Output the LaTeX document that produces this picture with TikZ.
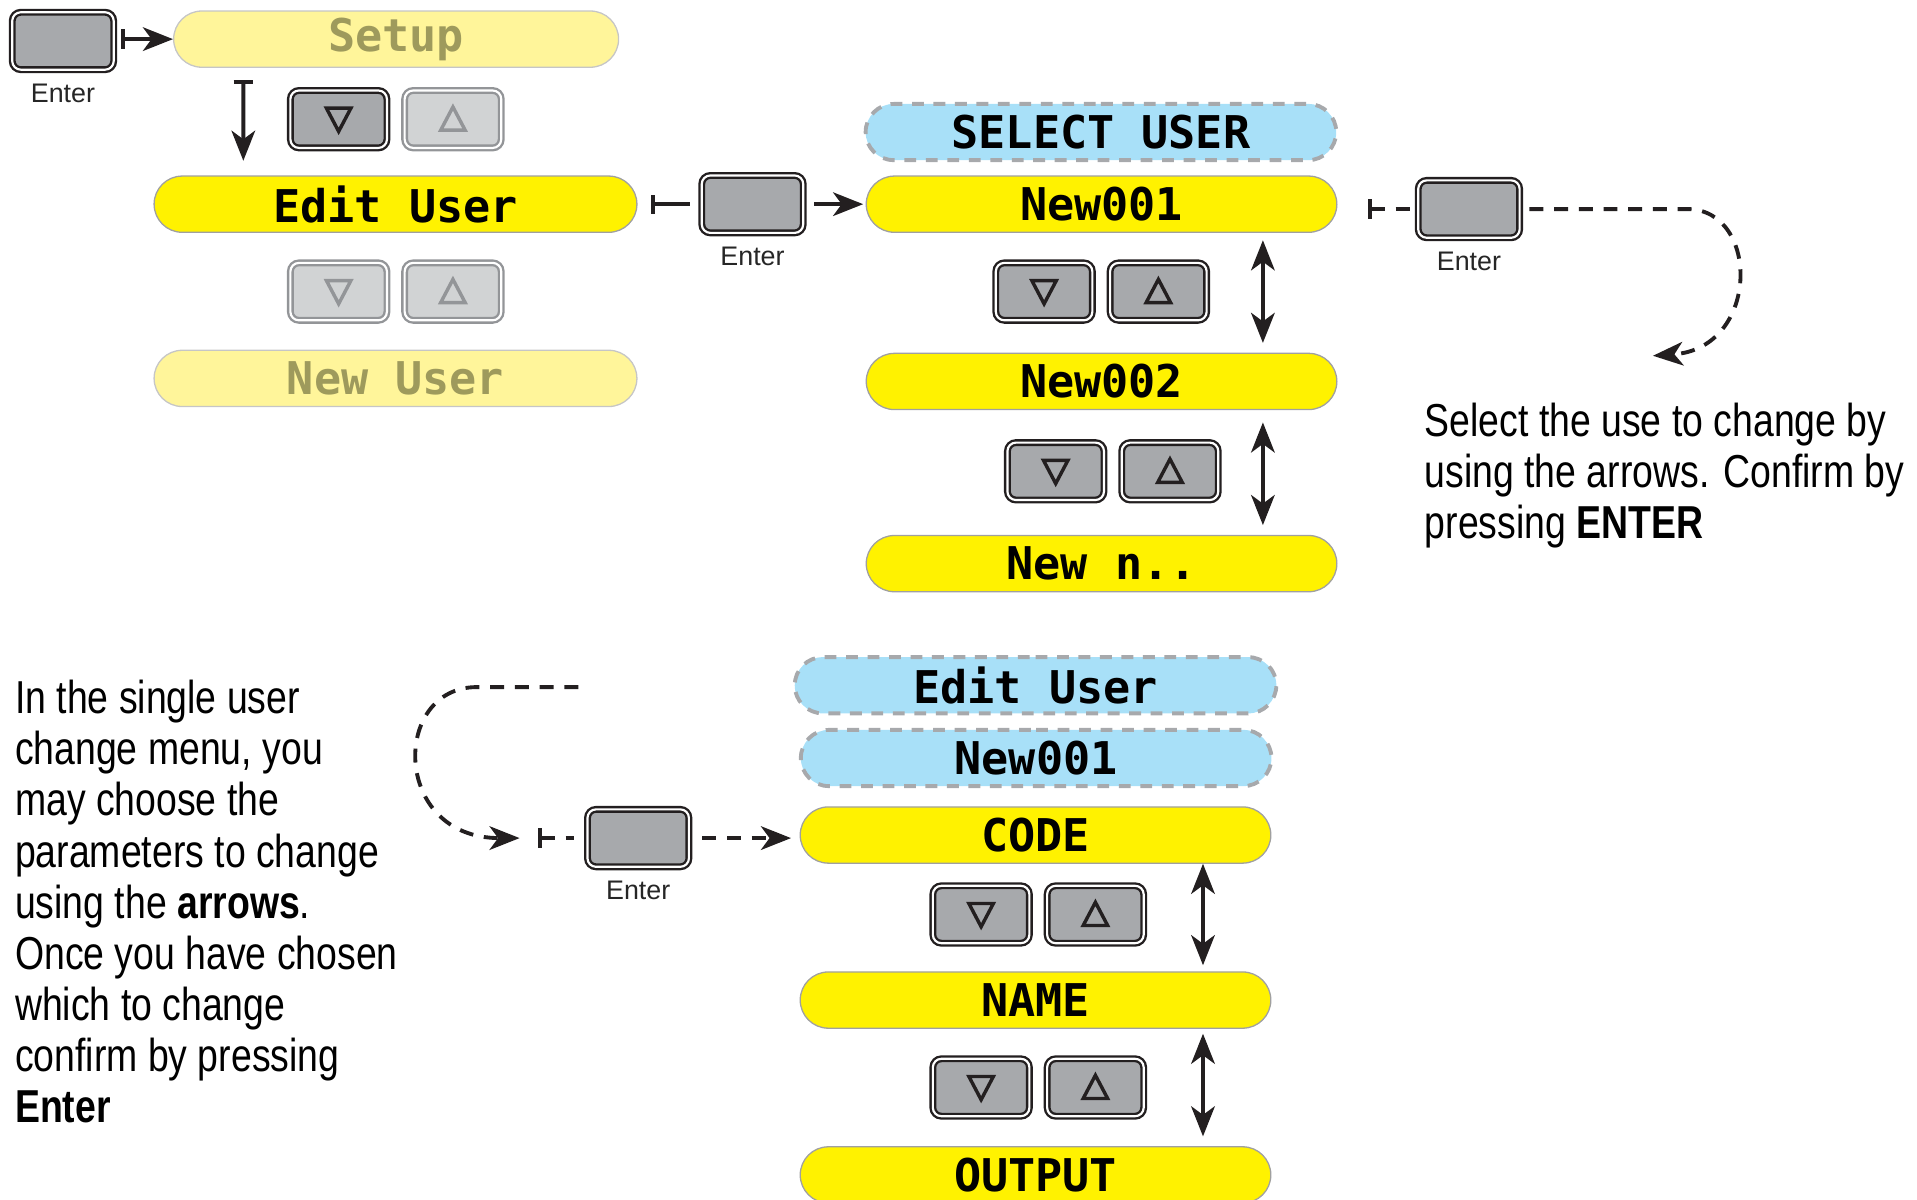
\documentclass[tikz,border=0pt]{standalone}
\usepackage{fontspec}
\usepackage{xcolor}
\usepackage{tikz}
\usetikzlibrary{positioning,arrows.meta,shapes.misc}
\setmainfont{Liberation Sans}
\newfontfamily\lcdfamily{DejaVu Sans Mono}
\newfontfamily\notefamily[FakeStretch=0.81]{Liberation Sans}
\newcommand{\lcdfont}{\lcdfamily\bfseries\fontsize{21}{21}\selectfont}
\newcommand{\notefont}{\notefamily\fontsize{21.5}{23.8}\selectfont}
\newcommand{\keylabelfont}{\fontsize{12.5}{13}\selectfont}
\definecolor{lcdyellow}{HTML}{FFF200}
\definecolor{lcdpale}{HTML}{FFF59A}
\definecolor{lcdolive}{HTML}{9E9A5C}
\definecolor{lcdblue}{HTML}{A8E0F8}
\definecolor{dashgray}{HTML}{A7A9AC}
\definecolor{pillline}{HTML}{A0A0A0}
\definecolor{keygray}{HTML}{A7A9AC}
\definecolor{keylight}{HTML}{D1D3D4}
\definecolor{keyline}{HTML}{939598}
\definecolor{keyblack}{HTML}{231F20}
\tikzset{
  lcd/.style={rounded rectangle,draw=pillline,line width=0.6pt,fill=lcdyellow,minimum height=0.92cm,minimum width=7.7cm,inner sep=0pt,font=\lcdfont},
  lcdoff/.style={lcd,fill=lcdpale,draw=pillline!60,text=lcdolive},
  lcdsel/.style={lcd,fill=lcdblue,draw=dashgray,line width=1.8pt,dash pattern=on 5.5pt off 4.5pt},
  btn/.style={rectangle,rounded corners=4pt,draw=keyblack,line width=1.1pt,double=white,double distance=1pt,fill=keygray,minimum width=1.58cm,minimum height=0.94cm,inner sep=0pt},
  btnoff/.style={btn,draw=keyline,fill=keylight},
  enterbtn/.style={btn,minimum width=1.66cm},
  tri/.style={line width=1.6pt,sharp corners,line join=miter},
  tridn/.style={path picture={\draw[tri,#1] ([shift={(-0.2cm,0.18cm)}]path picture bounding box.center) -- ++(0.4cm,0) -- ++(-0.2cm,-0.38cm) -- cycle;}},
  tridn/.default=keyblack,
  triup/.style={path picture={\draw[tri,#1] ([shift={(-0.2cm,-0.18cm)}]path picture bounding box.center) -- ++(0.4cm,0) -- ++(-0.2cm,0.38cm) -- cycle;}},
  triup/.default=keyblack,
  keylabel/.style={font=\keylabelfont,text=black!85,inner sep=0pt},
  note/.style={font=\notefont,align=left,anchor=north west,inner sep=0pt},
  flow/.style={line width=1.8pt,draw=keyblack},
  dashflow/.style={flow,dash pattern=on 6.5pt off 5pt},
}

\begin{document}
\begin{tikzpicture}[x=0.02cm,y=-0.02cm,>={Stealth[length=14pt,width=11pt,inset=4pt]},every node/.style={on grid},node distance=1.87cm]
  \useasboundingbox (0,0) rectangle (1568,981);
  \node[enterbtn] (EnterA) at (51.5,33.5) {};
  \node[keylabel,below=0.85cm of EnterA] (EnterAlbl) {Enter};
  \node[lcdoff,minimum width=7.28cm] (Setup) at (324,32) {Setup};
  \node[btn,tridn] (dn1) at (277,97.5) {};
  \node[btnoff,triup=keyline,right=of dn1] (up1) {};
  \node[lcd,minimum width=7.9cm] (EditUser) at (323.5,167) {Edit User};
  \node[btnoff,tridn=keyline] (dn2) at (277,238.5) {};
  \node[btnoff,triup=keyline,right=of dn2] (up2) {};
  \node[lcdoff,minimum width=7.9cm] (NewUser) at (323.5,309.5) {New User};
  \draw[flow,{Bar[width=9pt]}->,shorten <=0.1cm] (EnterA.east |- Setup.west) -- (Setup.west);
  \draw[flow,{Bar[width=9pt]}->] ([xshift=-2.5cm,yshift=-0.2cm]Setup.south) -- ([xshift=-2.49cm,yshift=0.24cm]EditUser.north);

  \node[enterbtn] (EnterB) at (615.5,167) {};
  \node[keylabel,below=0.85cm of EnterB] (EnterBlbl) {Enter};
  \node[lcdsel] (SelUser) at (900.5,108) {SELECT USER};
  \node[lcd] (New001) at (901,167) {New001};
  \node[btn,tridn] (dn3) at (854,238.5) {};
  \node[btn,triup,right=of dn3] (up3) {};
  \node[lcd] (New002) at (901,312) {New002};
  \node[btn,tridn] (dn4) at (863.5,385.5) {};
  \node[btn,triup,right=of dn4] (up4) {};
  \node[lcd] (NewN) at (901,461) {New n..};
  \draw[flow,{Bar[width=9pt]}-,shorten <=0.22cm,shorten >=0.18cm] (EditUser.east) -- (EnterB.west);
  \draw[flow,->,shorten <=0.16cm,shorten >=0.04cm] (EnterB.east) -- (New001.west);
  \draw[flow,<->] ([xshift=2.64cm,yshift=-0.12cm]New001.south) -- ([xshift=2.64cm,yshift=0.16cm]New002.north);
  \draw[flow,<->] ([xshift=2.64cm,yshift=-0.2cm]New002.south) -- ([xshift=2.64cm,yshift=0.16cm]NewN.north);

  \node[enterbtn] (EnterC) at (1201.5,171) {};
  \node[keylabel,below=0.86cm of EnterC] (EnterClbl) {Enter};
  \coordinate (selA) at (1352,291);
  \draw[dashflow,{Bar[width=9pt]}-,shorten <=0.5cm,shorten >=0.1cm] (New001.east |- EnterC.west) -- (EnterC.west);
  \draw[dashflow,->,shorten <=0.14cm] (EnterC.east) -- (1380,171) .. controls (1440,171) and (1440,285) .. (selA);
  \node[note] (selnote) at (1165,329) {Select the use to change by\\using the arrows. Confirm by\\pressing \textbf{ENTER}};

  \node[lcdsel,minimum width=7.88cm] (EditHdr) at (847,560.5) {Edit User};
  \node[lcdsel] (UserHdr) at (847.5,620) {New001};
  \node[lcd] (Code) at (847,683) {CODE};
  \node[btn,tridn] (dn5) at (802.5,748) {};
  \node[btn,triup,right=of dn5] (up5) {};
  \node[lcd] (Name) at (847,818) {NAME};
  \node[btn,tridn] (dn6) at (802.5,889.5) {};
  \node[btn,triup,right=of dn6] (up6) {};
  \node[lcd] (Output) at (847,961) {OUTPUT};
  \draw[flow,<->] ([xshift=2.74cm]Code.south) -- ([xshift=2.74cm,yshift=0.1cm]Name.north);
  \draw[flow,<->] ([xshift=2.74cm,yshift=-0.08cm]Name.south) -- ([xshift=2.74cm,yshift=0.16cm]Output.north);

  \node[enterbtn] (EnterD) at (522,685.5) {};
  \node[keylabel,below=0.85cm of EnterD] (EnterDlbl) {Enter};
  \coordinate (loopB) at (473,562);
  \coordinate (inD) at (440,685.5);
  \draw[dashflow,->,shorten >=0.3cm] (loopB) -- (390,562) .. controls (320,562) and (320,685.5) .. (inD);
  \draw[dashflow,{Bar[width=9pt]}-,shorten >=0.2cm] (inD) -- (EnterD.west);
  \draw[dashflow,->,shorten <=0.2cm,shorten >=0.14cm] (EnterD.east) -- (EnterD.east -| Code.west);
  \node[note] (editnote) at (12,556) {In the single user\\change menu, you\\may choose the\\parameters to change\\using the \textbf{arrows}.\\Once you have chosen\\which to change\\confirm by pressing\\\textbf{Enter}};
\end{tikzpicture}
\end{document}
